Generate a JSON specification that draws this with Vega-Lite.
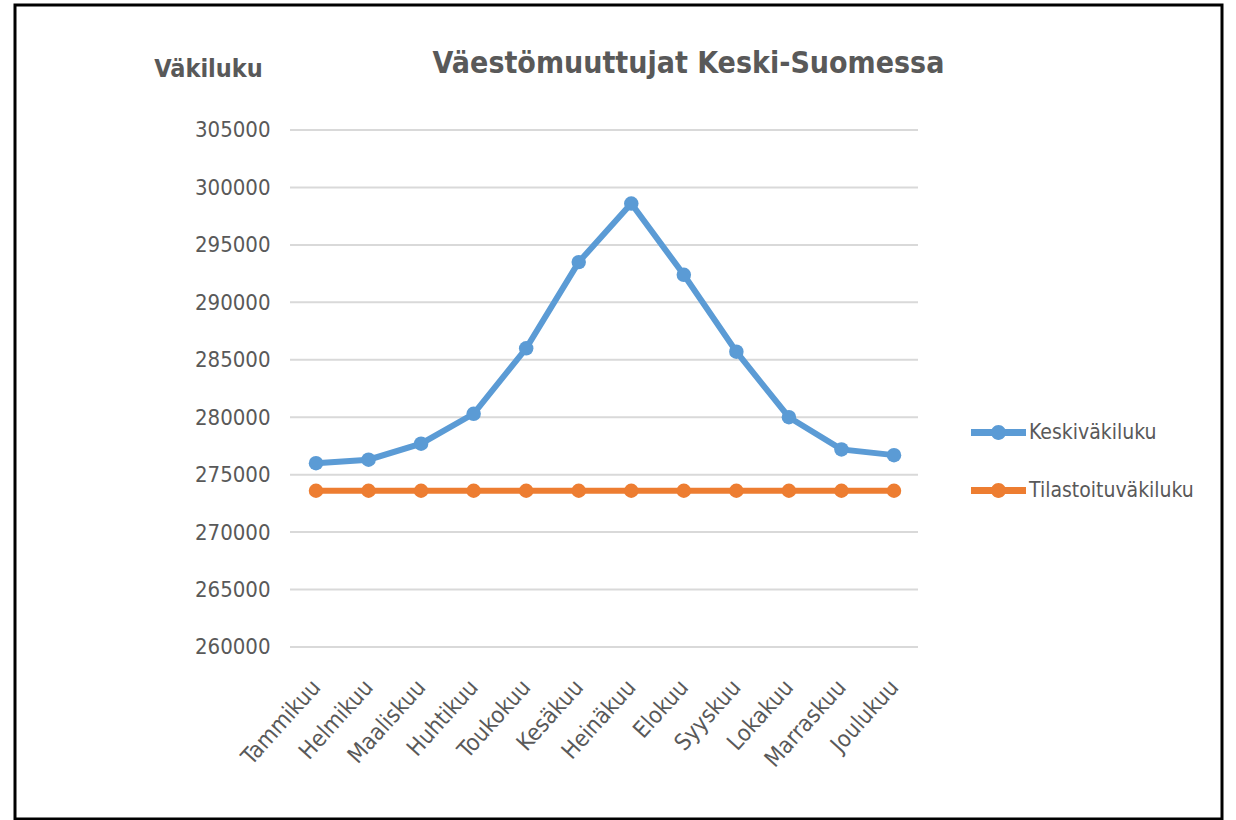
{
  "$schema": "https://vega.github.io/schema/vega-lite/v6.json",
  "width": 1207,
  "height": 814,
  "autosize": {"type": "none"},
  "padding": {"left": 15, "top": 5, "right": 14, "bottom": 1},
  "background": "white",
  "config": {
    "view": {"stroke": "black", "strokeWidth": 3},
    "font": "Liberation Sans Narrow, DejaVu Sans Condensed, sans-serif"
  },
  "title": {
    "text": "Väestömuuttujat Keski-Suomessa",
    "anchor": "middle",
    "frame": "group",
    "offset": -89,
    "baseline": "middle",
    "dx": 70,
    "fontSize": 30,
    "fontWeight": "bold",
    "color": "#595959"
  },
  "datasets": {
    "grid": [
      {"v": 260000}, {"v": 265000}, {"v": 270000}, {"v": 275000}, {"v": 280000},
      {"v": 285000}, {"v": 290000}, {"v": 295000}, {"v": 300000}, {"v": 305000}
    ],
    "pop": [
      {"month": "Tammikuu", "series": "Keskiväkiluku", "value": 276000},
      {"month": "Helmikuu", "series": "Keskiväkiluku", "value": 276300},
      {"month": "Maaliskuu", "series": "Keskiväkiluku", "value": 277700},
      {"month": "Huhtikuu", "series": "Keskiväkiluku", "value": 280300},
      {"month": "Toukokuu", "series": "Keskiväkiluku", "value": 286000},
      {"month": "Kesäkuu", "series": "Keskiväkiluku", "value": 293500},
      {"month": "Heinäkuu", "series": "Keskiväkiluku", "value": 298600},
      {"month": "Elokuu", "series": "Keskiväkiluku", "value": 292400},
      {"month": "Syyskuu", "series": "Keskiväkiluku", "value": 285700},
      {"month": "Lokakuu", "series": "Keskiväkiluku", "value": 280000},
      {"month": "Marraskuu", "series": "Keskiväkiluku", "value": 277200},
      {"month": "Joulukuu", "series": "Keskiväkiluku", "value": 276700},
      {"month": "Tammikuu", "series": "Tilastoituväkiluku", "value": 273600},
      {"month": "Helmikuu", "series": "Tilastoituväkiluku", "value": 273600},
      {"month": "Maaliskuu", "series": "Tilastoituväkiluku", "value": 273600},
      {"month": "Huhtikuu", "series": "Tilastoituväkiluku", "value": 273600},
      {"month": "Toukokuu", "series": "Tilastoituväkiluku", "value": 273600},
      {"month": "Kesäkuu", "series": "Tilastoituväkiluku", "value": 273600},
      {"month": "Heinäkuu", "series": "Tilastoituväkiluku", "value": 273600},
      {"month": "Elokuu", "series": "Tilastoituväkiluku", "value": 273600},
      {"month": "Syyskuu", "series": "Tilastoituväkiluku", "value": 273600},
      {"month": "Lokakuu", "series": "Tilastoituväkiluku", "value": 273600},
      {"month": "Marraskuu", "series": "Tilastoituväkiluku", "value": 273600},
      {"month": "Joulukuu", "series": "Tilastoituväkiluku", "value": 273600}
    ]
  },
  "layer": [
    {
      "data": {"name": "grid"},
      "mark": {"type": "rule", "color": "#d9d9d9", "strokeWidth": 2, "xOffset": -26, "x2Offset": 24},
      "encoding": {
        "x": {"datum": "Tammikuu", "type": "ordinal"},
        "x2": {"datum": "Joulukuu"},
        "y": {"field": "v", "type": "quantitative"}
      }
    },
    {
      "data": {"name": "pop"},
      "mark": {"type": "line", "strokeWidth": 6, "point": {"size": 210, "filled": true, "opacity": 1}},
      "encoding": {
        "x": {
          "field": "month",
          "type": "ordinal",
          "sort": null,
          "scale": {
            "type": "point",
            "domain": ["Tammikuu", "Helmikuu", "Maaliskuu", "Huhtikuu", "Toukokuu", "Kesäkuu", "Heinäkuu", "Elokuu", "Syyskuu", "Lokakuu", "Marraskuu", "Joulukuu"],
            "range": [301, 879],
            "padding": 0
          },
          "axis": {
            "orient": "bottom",
            "offset": -160,
            "title": null,
            "domain": false,
            "ticks": false,
            "grid": false,
            "labelAngle": -48,
            "labelAlign": "right",
            "labelBaseline": "middle",
            "labelPadding": 24,
            "labelFontSize": 23,
            "labelColor": "#595959"
          }
        },
        "y": {
          "field": "value",
          "type": "quantitative",
          "scale": {"domain": [245029, 315880], "nice": false, "zero": false},
          "axis": {
            "orient": "left",
            "offset": -265,
            "values": [260000, 265000, 270000, 275000, 280000, 285000, 290000, 295000, 300000, 305000],
            "format": "d",
            "domain": false,
            "ticks": false,
            "grid": false,
            "labelPadding": 10,
            "labelFontSize": 22,
            "labelColor": "#595959",
            "title": "Väkiluku",
            "titleAngle": 0,
            "titleX": -72,
            "titleY": 63,
            "titleAlign": "center",
            "titleBaseline": "middle",
            "titleFontSize": 25,
            "titleFontWeight": "bold",
            "titleColor": "#595959"
          }
        },
        "color": {
          "field": "series",
          "type": "nominal",
          "scale": {"domain": ["Keskiväkiluku", "Tilastoituväkiluku"], "range": ["#5b9bd5", "#ed7d31"]},
          "legend": {
            "orient": "none",
            "legendX": 956,
            "legendY": 400,
            "title": null,
            "padding": 0,
            "symbolType": "M-1,-0.13L1,-0.13L1,0.13L-1,0.13Z M-0.27,0A0.27,0.27,0,1,1,0.27,0A0.27,0.27,0,1,1,-0.27,0Z",
            "symbolSize": 3025,
            "symbolStrokeWidth": 0,
            "labelOffset": 3,
            "labelLimit": 400,
            "labelFontSize": 21,
            "labelColor": "#595959",
            "rowPadding": 20,
            "encode": {
              "symbols": {"update": {"fill": {"scale": "color", "field": "value"}, "fillOpacity": {"value": 1}}}
            }
          }
        }
      }
    }
  ]
}
